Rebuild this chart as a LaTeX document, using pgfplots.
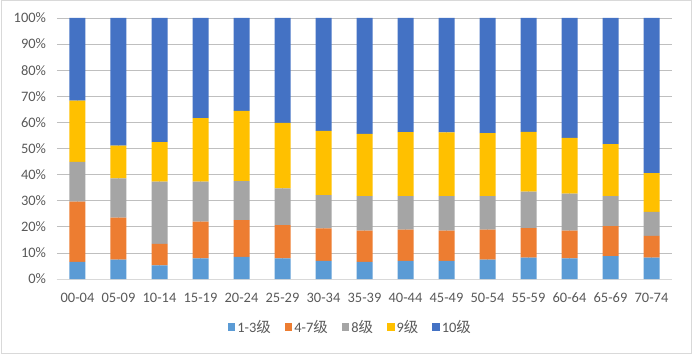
\documentclass[border=0pt]{standalone}
\usepackage{fontspec}
\setmainfont{Carlito}
\newfontfamily\cjk{Noto Sans CJK SC}
\usepackage{pgfplots}
\pgfplotsset{compat=1.18}
\definecolor{c1}{HTML}{5B9BD5}
\definecolor{c2}{HTML}{ED7D31}
\definecolor{c3}{HTML}{A5A5A5}
\definecolor{c4}{HTML}{FFC000}
\definecolor{c5}{HTML}{4472C4}
\definecolor{txt}{HTML}{595959}
\definecolor{grid}{HTML}{D9D9D9}
\begin{document}
\fontsize{14.5}{16}\selectfont
\begin{tikzpicture}
\begin{axis}[
  scale only axis, width=615bp, height=261bp,
  ybar stacked, bar width=16bp,
  xmin=-0.5, xmax=14.5, ymin=0, ymax=100,
  xtick={0,...,14},
  xticklabels={00-04,05-09,10-14,15-19,20-24,25-29,30-34,35-39,40-44,45-49,50-54,55-59,60-64,65-69,70-74},
  ytick={0,10,...,100},
  yticklabels={0\%,10\%,20\%,30\%,40\%,50\%,60\%,70\%,80\%,90\%,100\%},
  ymajorgrids, grid style={grid, line width=0.8pt},
  axis lines=left,
  x axis line style={draw=grid, line width=0.8pt, -},
  y axis line style={draw=none},
  major tick length=0pt,
  tick label style={font=\fontsize{14.5}{16}\selectfont, text=txt},
  yticklabel style={xshift=-6bp},
  xticklabel style={yshift=-9bp},
  legend style={at={(0.477,-0.184)}, anchor=center, draw=none, legend columns=5,
    font=\fontsize{14.5}{16}\selectfont, text=txt,
    /tikz/every even column/.append style={column sep=12bp}},
  legend image code/.code={\fill[#1] (0bp,-3.8bp) rectangle (7.5bp,3.8bp);},
  every axis plot/.append style={draw=none},
]
\addplot[fill=c1] coordinates {(0,6.6)(1,7.4)(2,5.2)(3,7.9)(4,8.5)(5,7.9)(6,6.9)(7,6.6)(8,6.9)(9,6.9)(10,7.4)(11,8.2)(12,7.9)(13,8.8)(14,8.2)};
\addplot[fill=c2] coordinates {(0,23.0)(1,16.1)(2,8.3)(3,14.1)(4,14.1)(5,12.7)(6,12.5)(7,11.9)(8,12.0)(9,11.6)(10,11.5)(11,11.3)(12,10.6)(13,11.5)(14,8.3)};
\addplot[fill=c3] coordinates {(0,15.3)(1,15.1)(2,23.8)(3,15.3)(4,14.9)(5,14.1)(6,12.7)(7,13.3)(8,12.9)(9,13.3)(10,12.9)(11,14.0)(12,14.2)(13,11.5)(14,9.2)};
\addplot[fill=c4] coordinates {(0,23.4)(1,12.5)(2,15.1)(3,24.3)(4,26.9)(5,25.1)(6,24.7)(7,23.8)(8,24.5)(9,24.4)(10,24.1)(11,22.9)(12,21.4)(13,19.9)(14,14.9)};
\addplot[fill=c5] coordinates {(0,31.7)(1,48.9)(2,47.6)(3,38.4)(4,35.6)(5,40.2)(6,43.2)(7,44.4)(8,43.7)(9,43.8)(10,44.1)(11,43.6)(12,45.9)(13,48.3)(14,59.4)};
\legend{1-3{\cjk 级},4-7{\cjk 级},8{\cjk 级},9{\cjk 级},10{\cjk 级}}
\end{axis}
\draw[grid, line width=1pt] ([xshift=-56bp,yshift=-74bp]current axis.south west) rectangle ([xshift=19bp,yshift=17bp]current axis.north east);
\useasboundingbox ([xshift=-57bp,yshift=-75bp]current axis.south west) rectangle ([xshift=20bp,yshift=18bp]current axis.north east);
\end{tikzpicture}
\end{document}
